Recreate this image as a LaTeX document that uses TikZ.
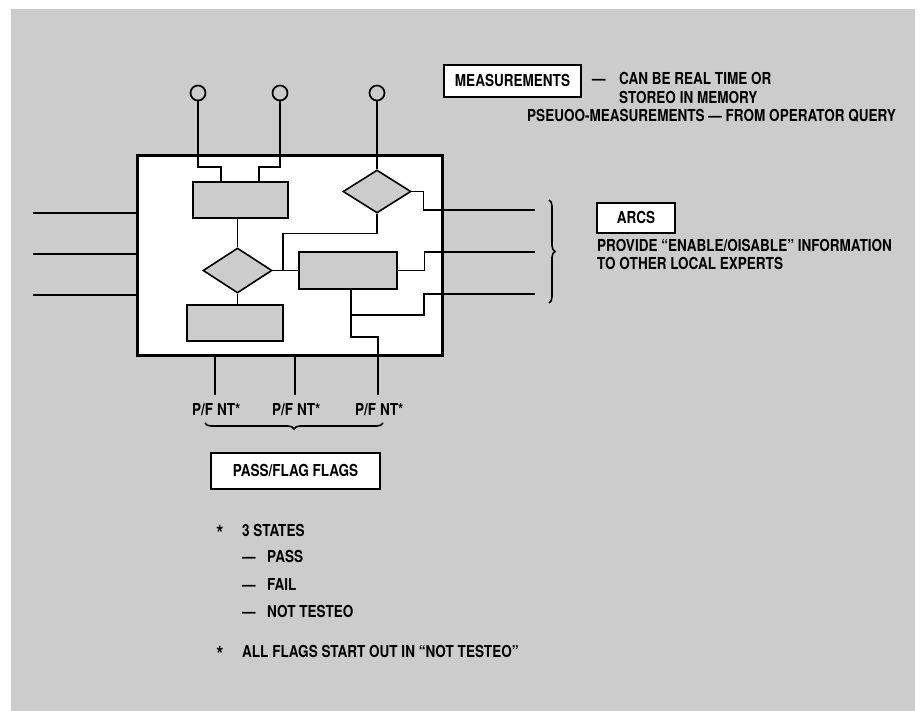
\documentclass[tikz,border=0pt]{standalone}
\usepackage{fontspec}
\newfontfamily\hv[FakeStretch=0.82]{TeX Gyre Heros}
\usetikzlibrary{shapes.geometric,decorations.pathreplacing}
\definecolor{bg}{RGB}{204,204,204}
\begin{document}
\begin{tikzpicture}[x=1pt,y=-1pt,
  lbl/.style={font=\hv\bfseries\fontsize{16.5}{19}\selectfont, inner sep=0pt, text height=11.85pt, text depth=0pt},
  txt/.style={lbl, anchor=west},
  wire/.style={line width=1.2pt},
  blk/.style={draw, line width=1.6pt, fill=bg, inner sep=0pt, rectangle},
  dia/.style={draw, line width=1.6pt, fill=bg, diamond, inner sep=0pt},
  port/.style={draw, circle, line width=1.7pt, minimum size=15pt, inner sep=0pt},
  tag/.style={lbl, draw, fill=white, line width=1.6pt},
  br/.style={decorate, decoration={brace, amplitude=6pt}, line width=1.6pt}
]
\useasboundingbox (0,0) rectangle (922,711);
\fill[white] (0,0) rectangle (922,711);
\fill[bg] (11,9) rectangle (915,711);

% main block
\node[draw, line width=3pt, fill=white, minimum width=305pt, minimum height=200pt, inner sep=0pt] (box) at (289.5,256) {};

% ports and inner blocks
\node[port] (c1) at (198,93) {};
\node[port] (c2) at (280,93) {};
\node[port] (c3) at (377,93) {};
\node[blk, minimum width=95pt, minimum height=36pt] (r1) at (240.5,200) {};
\node[dia, minimum width=68pt, minimum height=43pt] (d1) at (377,191.5) {};
\node[dia, minimum width=69pt, minimum height=45pt] (d2) at (237.5,270.5) {};
\node[blk, minimum width=98pt, minimum height=37pt] (r2) at (348,270.5) {};
\node[blk, minimum width=96pt, minimum height=36pt] (r3) at (235,323) {};

% helper coordinates
\coordinate (i1) at (33,213);
\coordinate (i2) at (33,254);
\coordinate (i3) at (33,295);
\coordinate (o1) at (535,210);
\coordinate (o2) at (535,252);
\coordinate (o3) at (535,294);
\coordinate (p1) at (215,395);
\coordinate (p2) at (295,395);
\coordinate (p3) at (378,395);
\coordinate (a1) at (221,167);
\coordinate (a2) at (259,167);
\coordinate (j) at (283,270.5);
\coordinate (k) at (351,315);

% wires
\draw[wire] (c1.south) |- (a1) -- (a1 |- r1.north);
\draw[wire] (c2.south) |- (a2) -- (a2 |- r1.north);
\draw[wire] (c3.south) -- (d1.north);
\draw[wire] (d1.east) -- ++(12,0) |- (o1);
\draw[wire] (d1.south) -- ++(0,20) -| (j);
\draw[wire] (d2.east) -- (r2.west);
\draw[wire] (d2.north |- r1.south) -- (d2.north);
\draw[wire] (d2.south) -- (d2.south |- r3.north);
\draw[wire] (r2.east) -- ++(27,0) |- (o2);
\draw[wire] (k |- r2.south) -- (k) -- ++(73,0) |- (o3);
\draw[wire] (k) -- ++(0,22) -| (p3);
\draw[wire] (p1 |- box.south) -- (p1);
\draw[wire] (p2 |- box.south) -- (p2);
\draw[wire] (i1) -- (i1 -| box.west);
\draw[wire] (i2) -- (i2 -| box.west);
\draw[wire] (i3) -- (i3 -| box.west);

% braces
\draw[br] (549,200) -- (549,303);
\draw[br] (383,423) -- (205,423);

% texts
\node[tag, minimum width=137pt, minimum height=32pt] (meas) at (512.5,81) {MEASUREMENTS};
\node[txt] (dash1) at (592,79) {—};
\node[txt] (can) at (619,79) {CAN BE REAL TIME OR};
\node[txt] (stor) at (619,97.5) {STOREO IN MEMORY};
\node[txt] (pseu) at (527,116) {PSEUOO-MEASUREMENTS — FROM OPERATOR QUERY};
\node[tag, minimum width=78pt, minimum height=30pt] (arcs) at (636,218) {ARCS};
\node[txt] (prov) at (597,246) {PROVIDE “ENABLE/OISABLE” INFORMATION};
\node[txt] (toot) at (597,264) {TO OTHER LOCAL EXPERTS};
\node[txt] (pf1) at (192,410) {P/F NT*};
\node[txt] (pf2) at (272,410) {P/F NT*};
\node[txt] (pf3) at (355,410) {P/F NT*};
\node[tag, minimum width=169pt, minimum height=36pt] (pff) at (295.5,471) {PASS/FLAG FLAGS};
\node[lbl] (s1) at (220,531) {\raisebox{-5pt}{\scalebox{1.35}{*}}};
\node[txt] (st) at (242,531) {3 STATES};
\node[txt] (e1) at (242,557) {—};
\node[txt] (t1) at (267,557) {PASS};
\node[txt] (e2) at (242,585) {—};
\node[txt] (t2) at (267,585) {FAIL};
\node[txt] (e3) at (242,612) {—};
\node[txt] (t3) at (267,612) {NOT TESTEO};
\node[lbl] (s2) at (220,652) {\raisebox{-5pt}{\scalebox{1.35}{*}}};
\node[txt] (all) at (242,652) {ALL FLAGS START OUT IN “NOT TESTEO”};
\end{tikzpicture}
\end{document}
